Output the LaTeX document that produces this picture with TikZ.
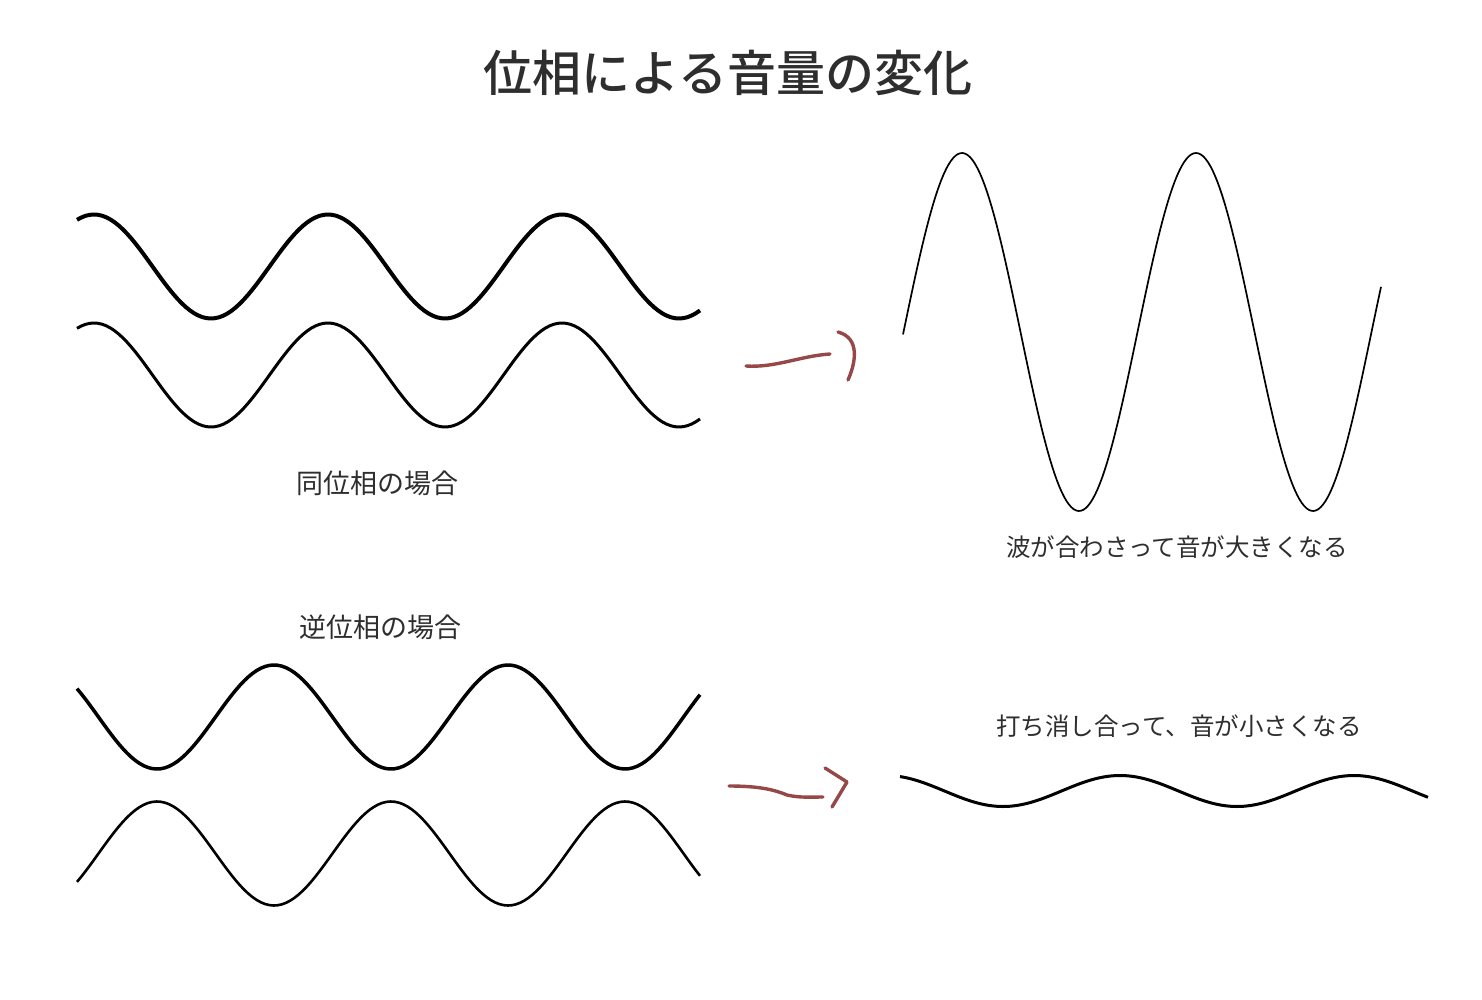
\documentclass[tikz,border=0pt]{standalone}
\usepackage{fontspec}
\newfontfamily\jp{Noto Sans CJK JP}
\newfontfamily\jptitle{Noto Sans CJK JP}[UprightFont=* Medium]
\definecolor{inkgray}{HTML}{2E2E2E}
\definecolor{penbrown}{RGB}{150,72,72}
\tikzset{
  wave/.style={line width=#1, line join=round, black},
  caption/.style={anchor=base, inkgray, font=\jp\fontsize{27}{30}\selectfont},
  result/.style={anchor=base, inkgray, font=\jp\fontsize{24.5}{28}\selectfont},
  pen/.style={penbrown, line width=3.4pt, line cap=round, line join=round}
}

\begin{document}
\begin{tikzpicture}[x=1pt, y=-1pt]

  \useasboundingbox (0,0) rectangle (1482,1000);

  \newcommand\Per{234};   %% period in px
  \newcommand\Amp{52};    %% amplitude of the input waves

  \node[anchor=base, inkgray, font=\jptitle\fontsize{49}{54}\selectfont] (title) at (728, 92) {位相による音量の変化};

  %% same phase
  \draw[wave=4pt] plot[domain=77:700, samples=150] (\x, {266.5 - \Amp*cos(360*((\x-94)/\Per))});
  \draw[wave=3pt] plot[domain=77:700, samples=150] (\x, {375 - \Amp*cos(360*((\x-94)/\Per))});
  \node[caption] (same) at (377, 493) {同位相の場合};

  \draw[pen] (746,366) .. controls (775,368) and (800,356) .. (830,354);
  \draw[pen] (838,332) .. controls (860,338) and (856,362) .. (848,380);

  \draw[wave=1.7pt] plot[domain=903:1381, samples=200] (\x, {332 - 179*cos(360*((\x-962)/\Per))});
  \node[result] (louder) at (1177, 556) {波が合わさって音が大きくなる};

  %% opposite phase
  \node[caption] (opposite) at (380, 637) {逆位相の場合};
  \draw[wave=3.5pt] plot[domain=77:700, samples=150] (\x, {717 + \Amp*cos(360*((\x-157)/\Per))});
  \draw[wave=2.6pt] plot[domain=77:700, samples=150] (\x, {853.5 - \Amp*cos(360*((\x-157)/\Per))});

  \draw[pen] (729,786) .. controls (760,786) and (775,790) .. (787,795) .. controls (800,798) and (812,797) .. (823,797);
  \draw[pen] (825,768) -- (847,782) -- (832,807);

  \node[result] (quieter) at (1179, 735) {打ち消し合って、音が小さくなる};
  \draw[wave=3pt] plot[domain=900:1428, samples=150] (\x, {791 - 15.5*cos(360*((\x-1120)/\Per))});

\end{tikzpicture}
\end{document}
